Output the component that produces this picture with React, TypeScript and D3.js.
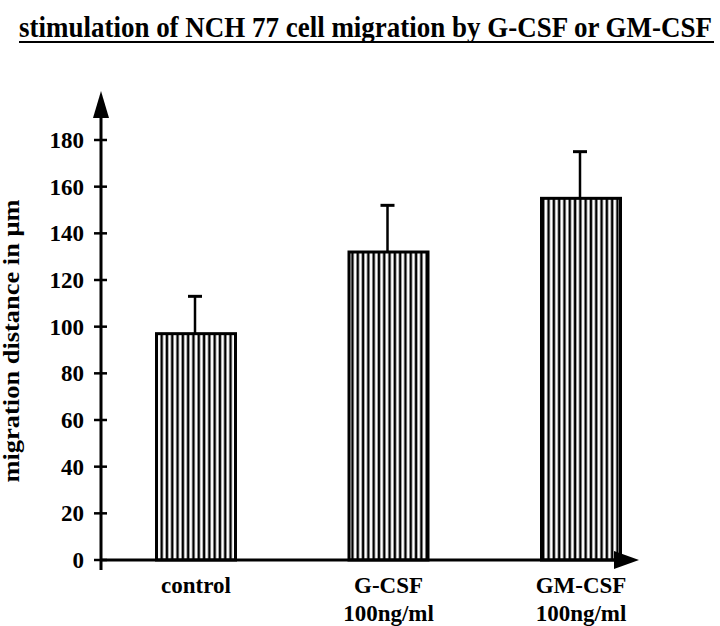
import React, { useRef, useEffect } from "react";
import * as d3 from "d3";

const categories = ["control", "G-CSF", "GM-CSF"];
const subLabels = ["", "100ng/ml", "100ng/ml"];
const means = [97, 132, 155];
const errors = [16, 20, 20];
const yTicks = [0, 20, 40, 60, 80, 100, 120, 140, 160, 180];

const FONT = "'Liberation Serif', 'Times New Roman', serif";

const App: React.FC = () => {
  const svgRef = useRef<SVGSVGElement | null>(null);

  useEffect(() => {
    document.body.style.margin = "0";
    document.body.style.overflow = "hidden";

    const width = 720;
    const height = 626;
    const x0 = 101; // y axis position
    const y0 = 560; // x axis position

    const svg = d3.select(svgRef.current);
    svg.selectAll("*").remove();
    svg.attr("width", width).attr("height", height);

    // stripe pattern
    const defs = svg.append("defs");
    const pat = defs.append("pattern")
      .attr("id", "stripes")
      .attr("patternUnits", "userSpaceOnUse")
      .attr("width", 5.3)
      .attr("height", 10);
    pat.append("rect").attr("width", 5.3).attr("height", 10).attr("fill", "#fff");
    pat.append("rect").attr("x", 1.4).attr("width", 2.5).attr("height", 10).attr("fill", "#000");

    const yScale = d3.scaleLinear().domain([0, 180]).range([y0, 140]);
    const xScale = d3.scalePoint<string>().domain(categories).range([196, 581]);
    const barW = 79;

    // title (tall, condensed look via vertical scale)
    svg.append("text")
      .attr("transform", "translate(19, 37) scale(1, 1.15)")
      .attr("textLength", 693)
      .attr("lengthAdjust", "spacingAndGlyphs")
      .style("font-family", FONT)
      .style("font-weight", "bold")
      .style("font-size", "26px")
      .text("stimulation of NCH 77 cell migration by G-CSF or GM-CSF");
    svg.append("line")
      .attr("x1", 19).attr("x2", 714)
      .attr("y1", 42).attr("y2", 42)
      .attr("stroke", "#000").attr("stroke-width", 2);

    // bars
    const g = svg.append("g");
    categories.forEach((c, i) => {
      const cx = xScale(c)!;
      g.append("rect")
        .attr("x", cx - barW / 2)
        .attr("y", yScale(means[i]))
        .attr("width", barW)
        .attr("height", y0 - yScale(means[i]))
        .attr("fill", "url(#stripes)")
        .attr("stroke", "#000")
        .attr("stroke-width", 3);

      // error bar
      const top = yScale(means[i] + errors[i]);
      g.append("line")
        .attr("x1", cx - 1).attr("x2", cx - 1)
        .attr("y1", yScale(means[i])).attr("y2", top)
        .attr("stroke", "#000").attr("stroke-width", 2.5);
      g.append("line")
        .attr("x1", cx - 8).attr("x2", cx + 6)
        .attr("y1", top).attr("y2", top)
        .attr("stroke", "#000").attr("stroke-width", 3);

      g.append("text")
        .attr("x", cx)
        .attr("y", 593)
        .attr("text-anchor", "middle")
        .style("font-family", FONT)
        .style("font-weight", "bold")
        .style("font-size", "23px")
        .text(c);
      if (subLabels[i]) {
        g.append("text")
          .attr("x", cx)
          .attr("y", 621)
          .attr("text-anchor", "middle")
          .style("font-family", FONT)
          .style("font-weight", "bold")
          .style("font-size", "23px")
          .text(subLabels[i]);
      }
    });

    // y axis
    svg.append("line")
      .attr("x1", x0).attr("x2", x0)
      .attr("y1", 570).attr("y2", 112)
      .attr("stroke", "#000").attr("stroke-width", 3);
    svg.append("path")
      .attr("d", `M${x0 - 8},118 L${x0},91 L${x0 + 8},118 Z`)
      .attr("fill", "#000");

    yTicks.forEach((t) => {
      svg.append("line")
        .attr("x1", x0 - 7).attr("x2", x0 + 6)
        .attr("y1", yScale(t)).attr("y2", yScale(t))
        .attr("stroke", "#000").attr("stroke-width", 2.5);
      svg.append("text")
        .attr("x", 84)
        .attr("y", yScale(t))
        .attr("dy", "0.35em")
        .attr("text-anchor", "end")
        .style("font-family", FONT)
        .style("font-weight", "bold")
        .style("font-size", "23px")
        .text(t);
    });

    // x axis
    svg.append("line")
      .attr("x1", x0).attr("x2", 620)
      .attr("y1", y0).attr("y2", y0)
      .attr("stroke", "#000").attr("stroke-width", 3);
    svg.append("path")
      .attr("d", `M614,${y0 - 9} L639,${y0} L614,${y0 + 9} Z`)
      .attr("fill", "#000");

    // y label
    svg.append("text")
      .attr("transform", `translate(19, 341) rotate(-90)`)
      .attr("text-anchor", "middle")
      .attr("textLength", 283)
      .attr("lengthAdjust", "spacingAndGlyphs")
      .style("font-family", FONT)
      .style("font-weight", "bold")
      .style("font-size", "23px")
      .text("migration distance in μm");
  }, []);

  return (
    <div>
      <svg ref={svgRef} style={{ display: "block" }} />
    </div>
  );
};

export default App;
